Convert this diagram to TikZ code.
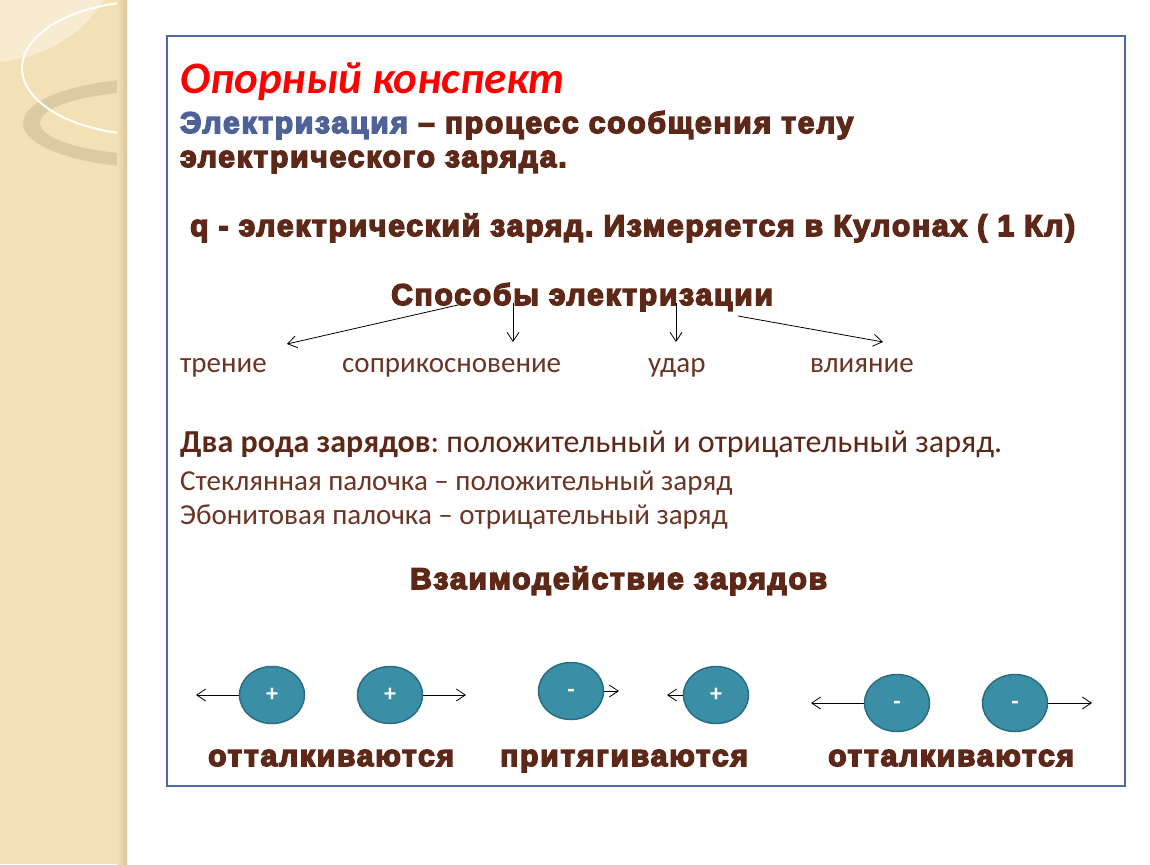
\documentclass[tikz,border=0pt]{standalone}
\usepackage{fontspec}
\setmainfont{Carlito}
\newfontfamily\arb{Liberation Sans}[BoldFeatures={FakeBold=5},LetterSpace=6]
\usetikzlibrary{shapes.geometric,arrows.meta}
\frenchspacing
\definecolor{strip}{HTML}{F3E1B5}
\definecolor{stripdark}{HTML}{D9C59A}
\definecolor{striplight}{HTML}{F7EBD2}
\definecolor{ringc}{HTML}{DCCBA0}
\definecolor{frame}{HTML}{4E6BA6}
\definecolor{brown}{HTML}{5E2818}
\definecolor{brownl}{HTML}{6A3525}
\definecolor{bluew}{HTML}{4F6298}
\definecolor{teal}{HTML}{3A8FA6}
\definecolor{tealb}{HTML}{2A6D80}
\tikzset{
  heavy/.style={anchor=base west, inner sep=0pt, text=brown, font=\frenchspacing\arb\bfseries\fontsize{30}{34}\selectfont},
  calib/.style={anchor=base west, inner sep=0pt, text=brownl, font=\fontsize{29}{32}\selectfont},
  charge/.style={ellipse, draw=tealb, line width=1.5pt, fill=teal, minimum width=65pt, minimum height=57pt, inner sep=0pt, text=white, font=\bfseries\fontsize{24}{26}\selectfont, text height=12pt, text depth=0pt},
  arr/.style={draw=black, line width=0.8pt, -{Straight Barb[length=9pt,width=12pt]}},
}
\begin{document}
\begin{tikzpicture}[x=1pt,y=-1pt]
\useasboundingbox (0,0) rectangle (1150,864);
\fill[white] (0,0) rectangle (1150,864);
% left strip
\begin{scope}
\clip (0,0) rectangle (127,864);
\fill[strip] (0,0) rectangle (127,864);
\fill[striplight] (0,0) -- (104,0) .. controls (80,38) and (40,58) .. (0,62) -- cycle;
\fill[ringc, even odd rule] (160,123) ellipse [x radius=137, y radius=45] (160,123) ellipse [x radius=120, y radius=32];
\draw[white, line width=2pt] (150,68) ellipse [x radius=128, y radius=67];
\shade[left color=strip, right color=stripdark] (117,0) rectangle (127,864);
\end{scope}
% frame
\draw[frame, line width=1.2pt] (167,36) rectangle (1125,786);
% texts
\node[anchor=base west, inner sep=0pt, text=red, font=\bfseries\itshape\fontsize{45}{50}\selectfont] (title) at (180,94) {Опорный конспект};
\node[heavy] (l1) at (180,133) {\textcolor{bluew}{Электризация} – процесс сообщения телу};
\node[heavy] (l2) at (180,167) {электрического заряда.};
\node[heavy] (q) at (190,236) {q - электрический заряд. Измеряется в Кулонах ( 1 Кл)};
\node[heavy] (sp) at (391,305) {Способы электризации};
\node[calib] (m1) at (180,372) {трение};
\node[calib] (m2) at (342,372) {соприкосновение};
\node[calib] (m3) at (648,372) {удар};
\node[calib] (m4) at (810,372) {влияние};
\node[calib, text=brown, font=\fontsize{32}{36}\selectfont] (two) at (180,452) {\textbf{Два рода зарядов}: положительный и отрицательный заряд.};
\node[calib] (glass) at (180,490) {Стеклянная палочка – положительный заряд};
\node[calib] (ebon) at (180,524) {Эбонитовая палочка – отрицательный заряд};
\node[heavy] (vz) at (410,589) {Взаимодействие зарядов};
% arrows from Sposoby
\coordinate (s1) at (458,305); \coordinate (t1) at (287,344);
\coordinate (s2) at (513,303); \coordinate (t2) at (513,342);
\coordinate (s3) at (676,303); \coordinate (t3) at (676,342);
\coordinate (s4) at (738,316); \coordinate (t4) at (883,342);
\draw[arr] (s1) -- (t1);
\draw[arr] (s2) -- (t2);
\draw[arr] (s3) -- (t3);
\draw[arr] (s4) -- (t4);
% charges
\node[charge] (c1) at (272,695) {+};
\node[charge] (c2) at (390,695) {+};
\node[charge] (c3) at (571,691) {-};
\node[charge] (c4) at (716,695) {+};
\node[charge] (c5) at (897,703) {-};
\node[charge] (c6) at (1015,703) {-};
\coordinate (e1) at (196,695);
\coordinate (e2) at (466,695);
\coordinate (e3) at (619,691);
\coordinate (e4) at (667,695);
\coordinate (e5) at (811,703);
\coordinate (e6) at (1092,703);
\draw[arr] (c1.west) -- (e1);
\draw[arr] (c2.east) -- (e2);
\draw[arr] (c3.east) -- (e3);
\draw[arr] (c4.west) -- (e4);
\draw[arr] (c5.west) -- (e5);
\draw[arr] (c6.east) -- (e6);
\node[heavy] (r1) at (208,766) {отталкиваются};
\node[heavy] (a1) at (500,766) {притягиваются};
\node[heavy] (r2) at (828,766) {отталкиваются};
\end{tikzpicture}
\end{document}
